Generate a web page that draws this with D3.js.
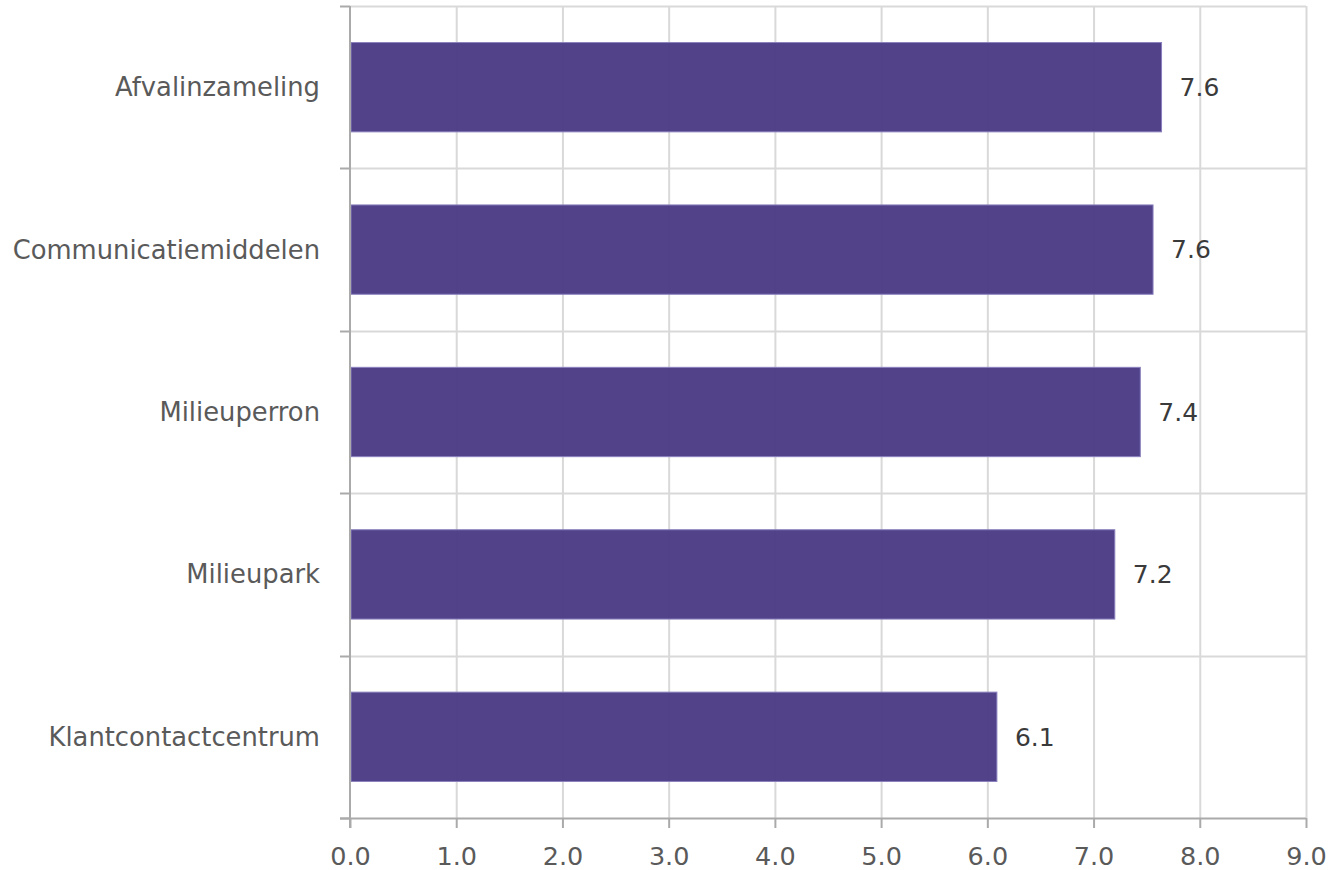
<!DOCTYPE html>
<html><head><meta charset="utf-8">
<script src="https://cdn.jsdelivr.net/npm/d3@7"></script>
<style>body{margin:0;background:#fff}svg{display:block}text{font-family:"DejaVu Sans",Verdana,sans-serif}</style>
</head><body><svg id="c" width="1340" height="870"></svg>
<script>
const categories = ["Afvalinzameling","Communicatiemiddelen","Milieuperron","Milieupark","Klantcontactcentrum"];
const values = [7.64, 7.56, 7.44, 7.2, 6.09];
const labels = ["7.6","7.6","7.4","7.2","6.1"];
const xTicks = [0,1,2,3,4,5,6,7,8,9];

const svg = d3.select("#c");
const m = {l:350, r:1306, t:6, b:818};
const x = d3.scaleLinear().domain([0,9]).range([m.l, m.r]);
const y = d3.scaleBand().domain(categories).range([m.t, m.b]).paddingInner(0.45).paddingOuter(0.225);
const band = (m.b - m.t)/categories.length;

// vertical grid
svg.append("g").selectAll("line").data(xTicks.slice(1)).join("line")
  .attr("x1", d=>x(d)+0.5).attr("x2", d=>x(d)+0.5).attr("y1", m.t).attr("y2", m.b)
  .attr("stroke","#d9d9d9").attr("stroke-width",2);
// horizontal grid at category boundaries
const bounds = d3.range(categories.length).map(i=>m.t + i*band);
svg.append("g").selectAll("line").data(bounds).join("line")
  .attr("x1", m.l).attr("x2", m.r).attr("y1", d=>Math.round(d)+0.5).attr("y2", d=>Math.round(d)+0.5)
  .attr("stroke","#d9d9d9").attr("stroke-width",2);

// bars
svg.append("g").selectAll("rect").data(categories).join("rect")
  .attr("x", x(0)+1).attr("y", d=>y(d)).attr("height", y.bandwidth())
  .attr("width", (d,i)=>x(values[i])-x(0)-1)
  .attr("fill","#4a3a85").attr("fill-opacity",0.96)
  .attr("stroke","#8a80bd").attr("stroke-width",1);

// value labels
svg.append("g").selectAll("text").data(categories).join("text")
  .attr("x", (d,i)=>x(values[i])+18).attr("y", d=>y(d)+y.bandwidth()/2)
  .attr("dy","0.35em").attr("font-size",25).attr("fill","#3a3a3a").text((d,i)=>labels[i]);

// y axis
const yAxisG = svg.append("g");
yAxisG.append("line").attr("x1",m.l).attr("x2",m.l).attr("y1",m.t).attr("y2",m.b+10).attr("stroke","#aaa").attr("stroke-width",2);
yAxisG.selectAll("line.t").data(bounds.concat([m.b])).join("line").attr("class","t")
  .attr("x1",m.l-10).attr("x2",m.l).attr("y1",d=>Math.round(d)+0.5).attr("y2",d=>Math.round(d)+0.5)
  .attr("stroke","#aaa").attr("stroke-width",2);
yAxisG.selectAll("text").data(categories).join("text")
  .attr("x", 320).attr("y", d=>y(d)+y.bandwidth()/2).attr("dy","0.35em")
  .attr("text-anchor","end").attr("font-size",25.8).attr("fill","#5a5a5a").text(d=>d);

// x axis
const xAxis = svg.append("g").attr("transform",`translate(0,${m.b})`)
  .call(d3.axisBottom(x).tickValues(xTicks).tickFormat(d3.format(".1f")).tickSize(10).tickPadding(19));
xAxis.select(".domain").attr("d",`M${m.l-10},0.5H${m.r}`).attr("stroke","#aaa").attr("stroke-width",2);
xAxis.selectAll(".tick line").attr("stroke","#aaa").attr("stroke-width",2);
xAxis.selectAll(".tick text").attr("font-size",25.5).attr("fill","#5a5a5a").attr("font-family","DejaVu Sans, sans-serif");
</script></body></html>
